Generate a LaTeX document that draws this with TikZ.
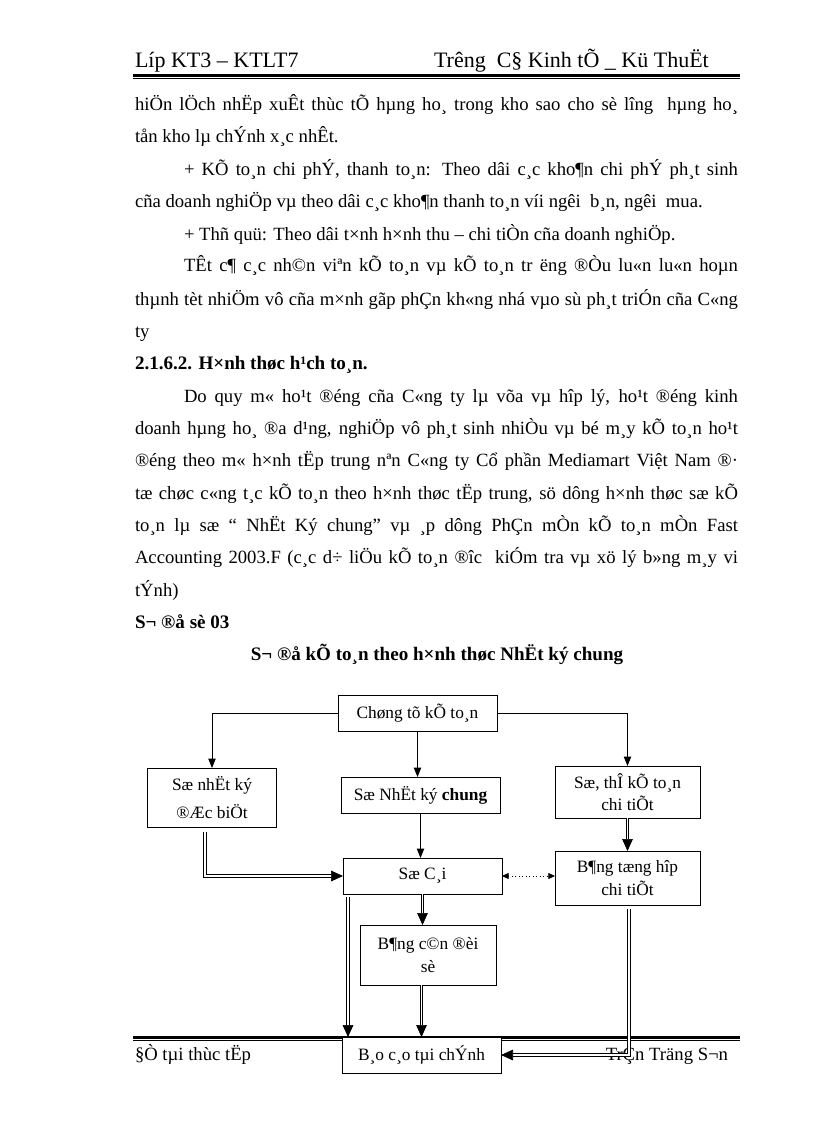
\documentclass[tikz,border=0pt]{standalone}
\usepackage{fontspec}
\setmainfont{Liberation Serif}
\usetikzlibrary{arrows.meta}

\newcommand{\fullline}[1]{\makebox[452.25pt][s]{#1}}
\newcommand{\indline}[1]{\makebox[415.5pt][s]{#1}}

\begin{document}
\begin{tikzpicture}[
  x=0.75pt, y=-0.75pt,
  every node/.style={inner sep=0pt, outer sep=0pt},
  txt/.style={anchor=base west, font=\fontsize{14pt}{17pt}\selectfont},
  hdr/.style={txt, font=\fontsize{16.5pt}{19pt}\selectfont},
  hd/.style={txt, font=\fontsize{14.3pt}{17pt}\selectfont\bfseries},
  box/.style={draw, line width=0.6pt, fill=white, align=center,
              font=\fontsize{13pt}{17pt}\selectfont},
  arr/.style={-{Triangle[length=7pt, width=5.5pt]}, line width=0.6pt},
  dbl/.style={-{Triangle[length=9pt, width=8pt]}, double,
              double distance=1.3pt, line width=0.5pt},
  dots/.style={{Triangle[length=5pt, width=4.5pt]}-{Triangle[length=5pt, width=4.5pt]},
               dotted, line width=0.6pt},
]
  \useasboundingbox (0,0) rectangle (816,1123);

  % header and footer rules
  \draw[line width=2.25pt] (133,75.5) -- (740,75.5);
  \draw[line width=0.75pt] (133,78.8) -- (740,78.8);
  \draw[line width=2.25pt] (133,1037.5) -- (740,1037.5);
  \draw[line width=0.75pt] (133,1040.8) -- (740,1040.8);

  \node[hdr] (hdl) at (135,68) {Líp KT3 – KTLT7};
  \node[hdr] (hdrr) at (434,68) {Trêng\ \ C§ Kinh tÕ \_ Kü ThuËt};

  \node[txt] (p1) at (135,111) {\fullline{hiÖn lÖch nhËp xuÊt thùc tÕ hµng ho¸ trong kho sao cho sè lîng\ \ hµng ho¸}};
  \node[txt] (p2) at (135,143) {tån kho lµ chÝnh x¸c nhÊt.};
  \node[txt] (p3) at (184,176) {\indline{+ KÕ to¸n chi phÝ, thanh to¸n: Theo dâi c¸c kho¶n chi phÝ ph¸t sinh}};
  \node[txt] (p4) at (135,208) {cña doanh nghiÖp vµ theo dâi c¸c kho¶n thanh to¸n víi ngêi\ \ b¸n, ngêi\ \ mua.};
  \node[txt] (p5) at (184,240) {+ Thñ quü: Theo dâi t×nh h×nh thu – chi tiÒn cña doanh nghiÖp.};
  \node[txt] (p6) at (184,272) {\indline{TÊt c¶ c¸c nh©n viªn kÕ to¸n vµ kÕ to¸n tr ëng ®Òu lu«n lu«n hoµn}};
  \node[txt] (p7) at (135,305) {\fullline{thµnh tèt nhiÖm vô cña m×nh gãp phÇn kh«ng nhá vµo sù ph¸t triÓn cña C«ng}};
  \node[txt] (p8) at (135,337) {ty};
  \node[hd]  (h1) at (135,369) {2.1.6.2. H×nh thøc h¹ch to¸n.};
  \node[txt] (q1) at (184,402) {\indline{Do quy m« ho¹t ®éng cña C«ng ty lµ võa vµ hîp lý, ho¹t ®éng kinh}};
  \node[txt] (q2) at (135,434) {\fullline{doanh hµng ho¸ ®a d¹ng, nghiÖp vô ph¸t sinh nhiÒu vµ bé m¸y kÕ to¸n ho¹t}};
  \node[txt] (q3) at (135,466) {\fullline{®éng theo m« h×nh tËp trung nªn C«ng ty Cổ phần Mediamart Việt Nam ®·}};
  \node[txt] (q4) at (135,499) {\fullline{tæ chøc c«ng t¸c kÕ to¸n theo h×nh thøc tËp trung, sö dông h×nh thøc sæ kÕ}};
  \node[txt] (q5) at (135,531) {\fullline{to¸n lµ sæ “ NhËt Ký chung” vµ ¸p dông PhÇn mÒn kÕ to¸n mÒn Fast}};
  \node[txt] (q6) at (135,563) {\fullline{Accounting 2003.F (c¸c d÷ liÖu kÕ to¸n ®îc\ \ kiÓm tra vµ xö lý b»ng m¸y vi}};
  \node[txt] (q7) at (135,596) {tÝnh)};
  \node[hd]  (h2) at (135,628) {S¬ ®å sè 03};
  \node[hd, anchor=base] (h3) at (437,660) {S¬ ®å kÕ to¸n theo h×nh thøc NhËt ký chung};

  \node[txt] (ftl) at (135,1060) {§Ò tµi thùc tËp};
  \node[txt, anchor=base east] (ftr) at (728,1060) {TrÇn Träng S¬n};

  % diagram
  \node[box, minimum width=119.25pt, minimum height=27pt] (chungtu) at (417.5,713) {Chøng tõ kÕ to¸n};
  \node[box, minimum width=96.75pt, minimum height=44.25pt, font=\fontsize{13pt}{21pt}\selectfont]
       (nkdb) at (212,797.5) {Sæ nhËt ký\\®Æc biÖt};
  \node[box, minimum width=119.25pt, minimum height=27pt] (nkc) at (420.5,795) {Sæ NhËt ký \textbf{chung}};
  \node[box, minimum width=108.75pt, minimum height=39pt] (sothe) at (627.5,792) {Sæ, thÎ kÕ to¸n\\chi tiÕt};
  \node[box, minimum width=119.25pt, minimum height=27pt] (socai) at (422.5,876) {Sæ C¸i};
  \node[box, minimum width=108.75pt, minimum height=40.5pt] (bthct) at (627.5,878) {B¶ng tæng hîp\\chi tiÕt};
  \node[box, minimum width=102pt, minimum height=45pt] (bcdsps) at (428,955) {B¶ng c©n ®èi\\sè};
  \node[box, minimum width=119.25pt, minimum height=27pt] (bctc) at (421.5,1055) {B¸o c¸o tµi chÝnh};

  \coordinate (a1) at (205,832);
  \coordinate (a2) at (348,897);
  \coordinate (a3) at (629,909);

  \draw[arr] (chungtu.west) -| (nkdb.north);
  \draw[arr] (chungtu.south) -- (chungtu.south |- nkc.north);
  \draw[arr] (chungtu.east) -| (sothe.north);
  \draw[arr] (nkc.south) -- (nkc.south |- socai.north);
  \draw[dbl] (a1) |- (socai.west);
  \draw[dbl] (sothe.south) -- (bthct.north);
  \draw[dots] (socai.east) -- (socai.east -| bthct.west);
  \draw[dbl] (socai.south) -- (socai.south |- bcdsps.north);
  \draw[dbl] (a2) -- (a2 |- bctc.north);
  \draw[dbl] (bctc.north |- bcdsps.south) -- (bctc.north);
  \draw[dbl] (a3) |- (bctc.east);
\end{tikzpicture}
\end{document}
